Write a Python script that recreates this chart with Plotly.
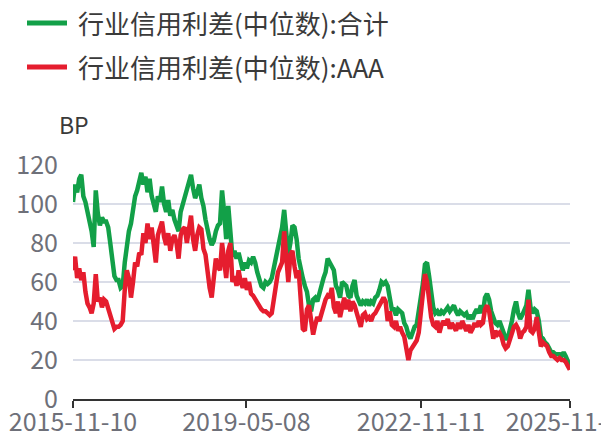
import pandas as pd
import plotly.graph_objects as go

series_total_name = "行业信用利差(中位数):合计"
series_aaa_name = "行业信用利差(中位数):AAA"

start_date = "2015-11-10"
end_date = "2025-11-10"

total = [101,110,106,113,115,104,101,96,91,86,78,107,95,89,93,91,91,88,80,71,
         63,61,61,57,58,70,80,86,90,97,104,107,112,116,110,114,106,113,104,99,
         96,104,101,109,100,96,102,94,97,92,89,86,96,100,102,108,112,115,108,103,
         106,110,103,99,92,86,82,79,81,86,89,90,107,96,82,99,82,73,76,72,
         75,69,66,70,67,71,70,73,70,65,62,58,57,60,59,60,62,67,71,76,
         81,88,97,85,74,80,89,88,82,72,66,62,58,55,48,45,51,52,50,54,
         60,62,65,72,70,68,66,58,56,52,60,59,58,53,52,58,61,53,51,48,
         50,49,51,48,50,49,52,53,56,60,59,60,58,50,46,46,43,46,45,44,
         39,37,33,31,34,37,38,44,52,59,69,70,63,52,47,44,45,43,45,44,
         46,47,45,47,48,45,43,45,44,43,44,41,43,41,44,46,44,48,44,52,
         54,51,45,41,39,38,40,37,34,31,31,35,40,46,50,44,41,43,46,48,
         56,47,44,46,45,40,32,31,29,28,26,24,24,23,23,23,22,24,22,19,17]

aaa = [66,73,62,67,61,65,55,49,47,44,49,64,50,52,47,51,50,46,42,38,
       36,37,37,38,40,56,66,62,52,60,70,68,75,74,85,80,90,82,88,79,
       70,84,87,91,83,79,85,76,82,84,80,72,84,87,88,80,87,94,82,76,
       84,88,87,77,74,65,57,52,62,72,68,66,80,70,62,76,80,60,63,58,
       66,60,57,62,56,60,54,53,51,50,48,46,45,45,44,43,44,53,58,65,
       67,70,86,70,60,74,76,68,62,66,48,36,35,46,48,40,33,38,42,40,
       44,48,51,53,52,57,47,44,50,42,48,52,46,51,45,50,48,44,40,37,
       43,44,41,42,40,43,44,46,49,51,52,50,40,45,38,37,40,35,37,34,
       32,26,20,25,27,28,30,34,44,52,64,60,50,42,38,37,40,34,38,40,
       38,41,36,39,37,35,39,36,40,37,35,38,34,36,39,37,40,38,39,46,
       48,45,36,31,35,33,34,32,28,26,27,31,35,37,38,36,31,34,35,37,
       51,35,34,36,42,35,27,29,28,27,24,22,22,21,20,21,20,20,19,17,15]

x_tick_dates = ["2015-11-10", "2019-05-08", "2022-11-11", "2025-11-10"]
x_tick_text = ["2015-11-10", "2019-05-08", "2022-11-11", "2025-11-10"]
y_ticks = [0, 20, 40, 60, 80, 100, 120]

dates = pd.date_range(start_date, end_date, periods=len(total))

GREEN = "#12a048"
RED = "#e51d2e"
FONT = "Noto Sans CJK SC, Microsoft YaHei, sans-serif"

fig = go.Figure()
fig.add_trace(go.Scatter(x=dates, y=total, mode="lines", name=series_total_name,
                         line=dict(color=GREEN, width=4.5), showlegend=False))
fig.add_trace(go.Scatter(x=dates, y=aaa, mode="lines", name=series_aaa_name,
                         line=dict(color=RED, width=4.5), showlegend=False))

# page has an 8px body margin; figure sized to fit the 609x439 window
OFF = 8
W, H = 609 - OFF, 439 - OFF
L, R, T, B = 73 - OFF, 39, 165 - OFF, 40
pw, ph = W - L - R, H - T - B

def px(x):
    return (x - OFF - L) / pw

def py(y):
    return (H + OFF - B - y) / ph

shapes = []
annotations = []
for name, color, yy in [(series_total_name, GREEN, 23), (series_aaa_name, RED, 67)]:
    shapes.append(dict(type="line", xref="paper", yref="paper",
                       x0=px(27), x1=px(67), y0=py(yy), y1=py(yy),
                       line=dict(color=color, width=5)))
    annotations.append(dict(text=name, xref="paper", yref="paper", x=px(76), y=py(yy),
                            xanchor="left", yanchor="middle", showarrow=False,
                            font=dict(size=26, color="#3a3a3a", family=FONT)))
annotations.append(dict(text="BP", xref="paper", yref="paper", x=px(74), y=py(124),
                        xanchor="center", yanchor="middle", showarrow=False,
                        font=dict(size=23, color="#3a3a3a", family=FONT)))

fig.update_layout(
    width=W, height=H,
    margin=dict(l=L, r=R, t=T, b=B, pad=0, autoexpand=False),
    paper_bgcolor="white", plot_bgcolor="white",
    font=dict(family=FONT, size=24, color="#6e7079"),
    shapes=shapes, annotations=annotations,
    showlegend=False,
)
fig.update_xaxes(
    type="date", automargin=False,
    range=[pd.Timestamp(start_date), pd.Timestamp(end_date) + pd.Timedelta(days=1)],
    tickvals=pd.to_datetime(x_tick_dates), ticktext=x_tick_text,
    showgrid=False, zeroline=False,
    showline=True, linecolor="#333333", linewidth=2,
    ticks="outside", ticklen=7, tickwidth=2, tickcolor="#333333",
    ticklabeloverflow="allow", ticklabelstandoff=-7,
    tickfont=dict(size=25, color="#6e7079", family=FONT),
)
fig.update_yaxes(
    range=[0, 120], tickvals=y_ticks, automargin=False,
    showgrid=True, gridcolor="#dadde8", gridwidth=2,
    zeroline=False, showline=False, ticks="",
    ticklabelstandoff=14,
    tickfont=dict(size=25, color="#6e7079", family=FONT),
)

fig.write_html("out.html")
